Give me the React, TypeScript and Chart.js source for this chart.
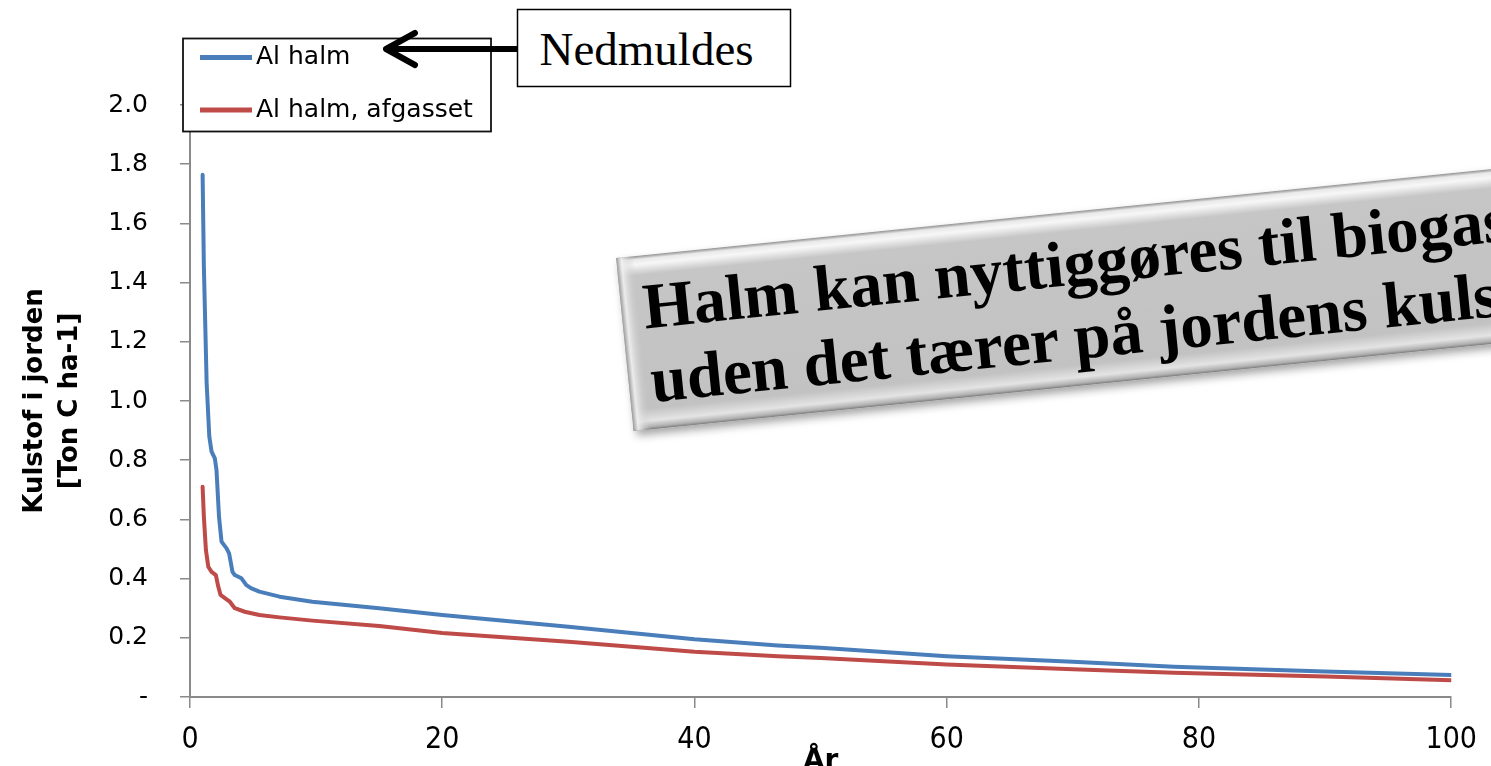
import React, { useEffect, useRef } from 'react';
import { Chart, registerables } from 'chart.js';

Chart.register(...registerables);

// ---- Data ----
const seriesLabels = ['Al halm', 'Al halm, afgasset'];

const halmYears = [1, 1.1, 1.32, 1.53, 1.71, 1.97, 2.1, 2.3, 2.5, 2.9, 3.1, 3.37, 3.55, 4.08, 4.47, 4.87, 5.5, 7.1, 9.7, 15, 20, 30, 40, 46.6, 50, 60, 70, 78, 90, 100];
const halmValues = [1.764, 1.454, 1.06, 0.88, 0.829, 0.806, 0.767, 0.609, 0.525, 0.502, 0.485, 0.423, 0.412, 0.401, 0.378, 0.367, 0.356, 0.339, 0.322, 0.3, 0.277, 0.237, 0.195, 0.174, 0.166, 0.138, 0.119, 0.102, 0.086, 0.074];

const afgassetYears = [1, 1.1, 1.26, 1.45, 1.71, 2.05, 2.24, 2.42, 2.9, 3.16, 3.55, 4.34, 5.5, 7.1, 9.7, 15, 20, 30, 40, 46.6, 50, 60, 70, 78, 90, 100];
const afgassetValues = [0.71, 0.609, 0.497, 0.44, 0.423, 0.412, 0.373, 0.345, 0.33, 0.322, 0.3, 0.288, 0.277, 0.269, 0.258, 0.24, 0.216, 0.187, 0.153, 0.138, 0.132, 0.11, 0.094, 0.082, 0.069, 0.057];

const xTicks = [0, 20, 40, 60, 80, 100];
const yTicks = [0, 0.2, 0.4, 0.6, 0.8, 1.0, 1.2, 1.4, 1.6, 1.8, 2.0];

const yTitle = ['Kulstof i jorden', '[Ton C ha-1]'];
const xTitle = 'År';
const calloutText = 'Nedmuldes';
const bannerLines = ['Halm kan nyttiggøres til biogas', 'uden det tærer på jordens kulstof'];

const BLUE = '#4a7ebb';
const RED = '#be4b48';
const AXIS = '#8a8a8a';
const SANS = '"DejaVu Sans", Lato, sans-serif';
const SANS_COND = '"DejaVu Sans Condensed", "DejaVu Sans", sans-serif';
const SERIF = '"Liberation Serif", "Times New Roman", serif';

const toPoints = (xs: number[], ys: number[]) => xs.map((x, i) => ({ x, y: ys[i] }));

const boxLegend = {
  id: 'boxLegend',
  afterDraw(chart: any) {
    const ctx = chart.ctx as CanvasRenderingContext2D;
    ctx.save();
    const bx = 183, by = 38.5, bw = 308, bh = 93;
    ctx.fillStyle = '#ffffff';
    ctx.fillRect(bx, by, bw, bh);
    ctx.strokeStyle = '#111';
    ctx.lineWidth = 1.8;
    ctx.strokeRect(bx, by, bw, bh);
    const rows = [57.5, 110];
    chart.data.datasets.forEach((ds: any, i: number) => {
      const y = rows[i];
      ctx.strokeStyle = ds.borderColor;
      ctx.lineWidth = 5;
      ctx.lineCap = 'butt';
      ctx.beginPath();
      ctx.moveTo(200, y);
      ctx.lineTo(252, y);
      ctx.stroke();
      ctx.fillStyle = '#000';
      ctx.font = `25px ${SANS}`;
      ctx.textBaseline = 'middle';
      ctx.textAlign = 'left';
      ctx.fillText(ds.label, 256, y);
    });
    ctx.restore();
  },
};

export default function App() {
  const canvasRef = useRef<HTMLCanvasElement | null>(null);

  useEffect(() => {
    document.body.style.margin = '0';
    const canvas = canvasRef.current;
    if (!canvas) return;
    const chart = new Chart(canvas, {
      type: 'line',
      data: {
        datasets: [
          {
            label: seriesLabels[0],
            data: toPoints(halmYears, halmValues),
            borderColor: BLUE,
            backgroundColor: BLUE,
            borderWidth: 4,
            pointRadius: 0,
            tension: 0,
            borderJoinStyle: 'round',
            borderCapStyle: 'round',
          },
          {
            label: seriesLabels[1],
            data: toPoints(afgassetYears, afgassetValues),
            borderColor: RED,
            backgroundColor: RED,
            borderWidth: 4,
            pointRadius: 0,
            tension: 0,
            borderJoinStyle: 'round',
            borderCapStyle: 'round',
          },
        ],
      },
      options: {
        responsive: false,
        animation: false,
        devicePixelRatio: 1,
        layout: { padding: { top: 105, right: 34, bottom: 0, left: 0 } },
        plugins: {
          legend: { display: false },
          tooltip: { enabled: false },
        },
        scales: {
          x: {
            type: 'linear',
            min: 0,
            max: 100,
            afterBuildTicks: (scale: any) => {
              scale.ticks = xTicks.map((v) => ({ value: v }));
            },
            afterFit: (scale: any) => {
              scale.height = 69;
            },
            ticks: {
              color: '#000',
              font: { family: SANS_COND, size: 30 },
              padding: 14,
              maxRotation: 0,
              callback: (v: any) => String(v),
            },
            grid: {
              drawOnChartArea: false,
              drawTicks: true,
              tickLength: 11,
              tickColor: AXIS,
              lineWidth: 1.5,
            },
            border: { display: true, color: AXIS, width: 2 },
            title: {
              display: true,
              text: xTitle,
              color: '#000',
              font: { family: SANS, size: 28, weight: 'bold', lineHeight: 1 },
              padding: { top: 0, bottom: -10 },
            },
          },
          y: {
            type: 'linear',
            min: 0,
            max: 2,
            afterBuildTicks: (scale: any) => {
              scale.ticks = yTicks.map((v) => ({ value: v }));
            },
            afterFit: (scale: any) => {
              scale.width = 190;
            },
            ticks: {
              color: '#000',
              font: { family: SANS, size: 25 },
              padding: 32,
              callback: (v: any) => (Number(v) === 0 ? '-' : Number(v).toFixed(1)),
            },
            grid: {
              drawOnChartArea: false,
              drawTicks: true,
              tickLength: 10,
              tickColor: AXIS,
              lineWidth: 1.5,
            },
            border: { display: true, color: AXIS, width: 2 },
            title: {
              display: true,
              text: yTitle,
              color: '#000',
              font: { family: SANS, size: 26, weight: 'bold', lineHeight: 1.35 },
              padding: { top: 17.5, bottom: 0 },
            },
          },
        },
      },
      plugins: [boxLegend],
    } as any);
    return () => chart.destroy();
  }, []);

  const angle = -5.8;
  return (
    <div style={{ position: 'relative', width: 1491, height: 766, overflow: 'hidden', background: '#fff' }}>
      <canvas ref={canvasRef} width={1491} height={766} style={{ position: 'absolute', left: 0, top: 0 }} />
      <svg width={1491} height={766} style={{ position: 'absolute', left: 0, top: 0 }}>
        <defs>
          <linearGradient id="bannerV" x1="0" y1="0" x2="0" y2="1">
            <stop offset="0" stopColor="#8e8e8e" />
            <stop offset="0.02" stopColor="#e9e9e9" />
            <stop offset="0.05" stopColor="#f7f7f7" />
            <stop offset="0.11" stopColor="#c6c6c6" />
            <stop offset="0.88" stopColor="#c2c2c2" />
            <stop offset="0.95" stopColor="#e4e4e4" />
            <stop offset="0.985" stopColor="#b0b0b0" />
            <stop offset="1" stopColor="#7a7a7a" />
          </linearGradient>
          <linearGradient id="bannerH" x1="0" y1="0" x2="1" y2="0">
            <stop offset="0" stopColor="#9a9a9a" stopOpacity="1" />
            <stop offset="0.005" stopColor="#f0f0f0" stopOpacity="0.9" />
            <stop offset="0.018" stopColor="#c4c4c4" stopOpacity="0" />
            <stop offset="1" stopColor="#c4c4c4" stopOpacity="0" />
          </linearGradient>
          <filter id="bannerShadow" x="-5%" y="-20%" width="115%" height="150%">
            <feDropShadow dx="3" dy="5" stdDeviation="4" floodColor="#000" floodOpacity="0.35" />
          </filter>
        </defs>
        <g transform={`rotate(${angle} 616 258)`}>
          <g filter="url(#bannerShadow)">
            <rect x={616} y={258} width={1000} height={174} fill="url(#bannerV)" />
          </g>
          <rect x={616} y={258} width={1000} height={174} fill="url(#bannerH)" />
          <text x={638} y={331} fontFamily={SERIF} fontWeight="bold" fontSize={65} fill="#000">
            {bannerLines[0]}
          </text>
          <text x={638} y={405} fontFamily={SERIF} fontWeight="bold" fontSize={65} fill="#000">
            {bannerLines[1]}
          </text>
        </g>
        <rect x={517.5} y={9.5} width={273} height={77} fill="#fff" stroke="#000" strokeWidth={1.5} />
        <text x={539.5} y={65} fontFamily={SERIF} fontSize={47} fill="#000">
          {calloutText}
        </text>
        <path d="M517,49 L390,49" stroke="#000" strokeWidth={6} fill="none" />
        <path d="M415,33 L386,49 L415,65" stroke="#000" strokeWidth={6} fill="none" strokeLinecap="round" strokeLinejoin="round" />
      </svg>
    </div>
  );
}
